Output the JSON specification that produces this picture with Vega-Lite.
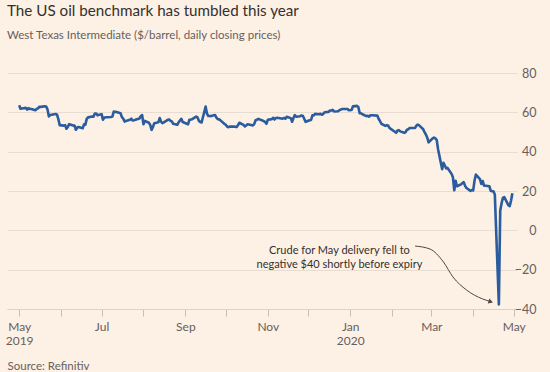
{
  "$schema": "https://vega.github.io/schema/vega-lite/v6.json",
  "width": 510,
  "height": 236,
  "autosize": {"type": "none"},
  "padding": {"left": 7, "top": 73, "right": 33, "bottom": 63},
  "background": "#fdf0e5",
  "title": {
    "text": "The US oil benchmark has tumbled this year",
    "subtitle": "West Texas Intermediate ($/barrel, daily closing prices)",
    "anchor": "start",
    "frame": "group",
    "font": "Lato",
    "fontSize": 15.2,
    "fontWeight": "normal",
    "color": "#33302e",
    "subtitleFont": "Lato",
    "subtitleFontSize": 11.5,
    "subtitleColor": "#66605c",
    "subtitlePadding": 10,
    "offset": 26
  },
  "config": {"view": {"stroke": null}, "font": "Lato"},
  "datasets": {
    "wti": [
      {"date":"2019-05-01","price":63.60},{"date":"2019-05-02","price":61.81},{"date":"2019-05-03","price":61.94},{"date":"2019-05-06","price":62.25},{"date":"2019-05-07","price":61.40},{"date":"2019-05-08","price":62.12},{"date":"2019-05-09","price":61.70},{"date":"2019-05-10","price":61.66},{"date":"2019-05-13","price":61.04},{"date":"2019-05-14","price":61.78},{"date":"2019-05-15","price":62.02},{"date":"2019-05-16","price":62.87},{"date":"2019-05-17","price":62.76},{"date":"2019-05-20","price":63.10},{"date":"2019-05-21","price":62.99},{"date":"2019-05-22","price":61.42},{"date":"2019-05-23","price":57.91},{"date":"2019-05-24","price":58.63},{"date":"2019-05-28","price":59.14},{"date":"2019-05-29","price":58.81},{"date":"2019-05-30","price":56.59},{"date":"2019-05-31","price":53.50},
      {"date":"2019-06-03","price":53.25},{"date":"2019-06-04","price":53.48},{"date":"2019-06-05","price":51.68},{"date":"2019-06-06","price":52.59},{"date":"2019-06-07","price":53.99},{"date":"2019-06-10","price":53.26},{"date":"2019-06-11","price":53.27},{"date":"2019-06-12","price":51.14},{"date":"2019-06-13","price":52.28},{"date":"2019-06-14","price":52.51},{"date":"2019-06-17","price":51.93},{"date":"2019-06-18","price":53.90},{"date":"2019-06-19","price":53.76},{"date":"2019-06-20","price":56.65},{"date":"2019-06-21","price":57.43},{"date":"2019-06-24","price":57.90},{"date":"2019-06-25","price":57.83},{"date":"2019-06-26","price":59.38},{"date":"2019-06-27","price":59.43},{"date":"2019-06-28","price":58.47},
      {"date":"2019-07-01","price":59.09},{"date":"2019-07-02","price":56.25},{"date":"2019-07-03","price":57.34},{"date":"2019-07-05","price":57.51},{"date":"2019-07-08","price":57.66},{"date":"2019-07-09","price":57.83},{"date":"2019-07-10","price":60.43},{"date":"2019-07-11","price":60.20},{"date":"2019-07-12","price":60.21},{"date":"2019-07-15","price":59.58},{"date":"2019-07-16","price":57.62},{"date":"2019-07-17","price":56.78},{"date":"2019-07-18","price":55.30},{"date":"2019-07-19","price":55.63},{"date":"2019-07-22","price":56.22},{"date":"2019-07-23","price":56.77},{"date":"2019-07-24","price":55.88},{"date":"2019-07-25","price":56.02},{"date":"2019-07-26","price":56.20},{"date":"2019-07-29","price":56.87},{"date":"2019-07-30","price":58.05},{"date":"2019-07-31","price":58.58},
      {"date":"2019-08-01","price":53.95},{"date":"2019-08-02","price":55.66},{"date":"2019-08-05","price":54.69},{"date":"2019-08-06","price":53.63},{"date":"2019-08-07","price":51.09},{"date":"2019-08-08","price":52.54},{"date":"2019-08-09","price":54.50},{"date":"2019-08-12","price":54.93},{"date":"2019-08-13","price":57.10},{"date":"2019-08-14","price":55.23},{"date":"2019-08-15","price":54.47},{"date":"2019-08-16","price":54.87},{"date":"2019-08-19","price":56.21},{"date":"2019-08-20","price":56.34},{"date":"2019-08-21","price":55.68},{"date":"2019-08-22","price":55.35},{"date":"2019-08-23","price":54.17},{"date":"2019-08-26","price":53.64},{"date":"2019-08-27","price":54.93},{"date":"2019-08-28","price":55.78},{"date":"2019-08-29","price":56.71},{"date":"2019-08-30","price":55.10},
      {"date":"2019-09-03","price":53.94},{"date":"2019-09-04","price":56.26},{"date":"2019-09-05","price":56.30},{"date":"2019-09-06","price":56.52},{"date":"2019-09-09","price":57.85},{"date":"2019-09-10","price":57.40},{"date":"2019-09-11","price":55.75},{"date":"2019-09-12","price":55.09},{"date":"2019-09-13","price":54.85},{"date":"2019-09-16","price":62.90},{"date":"2019-09-17","price":59.34},{"date":"2019-09-18","price":58.11},{"date":"2019-09-19","price":58.13},{"date":"2019-09-20","price":58.09},{"date":"2019-09-23","price":58.64},{"date":"2019-09-24","price":57.29},{"date":"2019-09-25","price":56.49},{"date":"2019-09-26","price":56.41},{"date":"2019-09-27","price":55.91},{"date":"2019-09-30","price":54.07},
      {"date":"2019-10-01","price":53.62},{"date":"2019-10-02","price":52.64},{"date":"2019-10-03","price":52.45},{"date":"2019-10-04","price":52.81},{"date":"2019-10-07","price":52.75},{"date":"2019-10-08","price":52.63},{"date":"2019-10-09","price":52.59},{"date":"2019-10-10","price":53.55},{"date":"2019-10-11","price":54.70},{"date":"2019-10-14","price":53.59},{"date":"2019-10-15","price":52.81},{"date":"2019-10-16","price":53.36},{"date":"2019-10-17","price":53.93},{"date":"2019-10-18","price":53.78},{"date":"2019-10-21","price":53.31},{"date":"2019-10-22","price":54.16},{"date":"2019-10-23","price":55.97},{"date":"2019-10-24","price":56.23},{"date":"2019-10-25","price":56.66},{"date":"2019-10-28","price":55.81},{"date":"2019-10-29","price":55.54},{"date":"2019-10-30","price":55.06},{"date":"2019-10-31","price":54.18},
      {"date":"2019-11-01","price":56.20},{"date":"2019-11-04","price":56.54},{"date":"2019-11-05","price":57.23},{"date":"2019-11-06","price":56.35},{"date":"2019-11-07","price":57.15},{"date":"2019-11-08","price":57.24},{"date":"2019-11-11","price":56.86},{"date":"2019-11-12","price":56.80},{"date":"2019-11-13","price":57.12},{"date":"2019-11-14","price":56.77},{"date":"2019-11-15","price":57.72},{"date":"2019-11-18","price":57.05},{"date":"2019-11-19","price":55.21},{"date":"2019-11-20","price":57.11},{"date":"2019-11-21","price":58.58},{"date":"2019-11-22","price":57.77},{"date":"2019-11-25","price":58.01},{"date":"2019-11-26","price":58.41},{"date":"2019-11-27","price":58.11},{"date":"2019-11-29","price":55.17},
      {"date":"2019-12-02","price":55.96},{"date":"2019-12-03","price":56.10},{"date":"2019-12-04","price":58.43},{"date":"2019-12-05","price":58.43},{"date":"2019-12-06","price":59.20},{"date":"2019-12-09","price":59.02},{"date":"2019-12-10","price":59.24},{"date":"2019-12-11","price":58.76},{"date":"2019-12-12","price":59.18},{"date":"2019-12-13","price":60.07},{"date":"2019-12-16","price":60.21},{"date":"2019-12-17","price":60.94},{"date":"2019-12-18","price":60.93},{"date":"2019-12-19","price":61.22},{"date":"2019-12-20","price":60.44},{"date":"2019-12-23","price":60.52},{"date":"2019-12-24","price":61.11},{"date":"2019-12-26","price":61.68},{"date":"2019-12-27","price":61.72},{"date":"2019-12-30","price":61.68},{"date":"2019-12-31","price":61.06},
      {"date":"2020-01-02","price":61.18},{"date":"2020-01-03","price":63.05},{"date":"2020-01-06","price":63.27},{"date":"2020-01-07","price":62.70},{"date":"2020-01-08","price":59.61},{"date":"2020-01-09","price":59.56},{"date":"2020-01-10","price":59.04},{"date":"2020-01-13","price":58.08},{"date":"2020-01-14","price":58.23},{"date":"2020-01-15","price":57.81},{"date":"2020-01-16","price":58.52},{"date":"2020-01-17","price":58.54},{"date":"2020-01-21","price":58.34},{"date":"2020-01-22","price":56.74},{"date":"2020-01-23","price":55.59},{"date":"2020-01-24","price":54.19},{"date":"2020-01-27","price":53.14},{"date":"2020-01-28","price":53.48},{"date":"2020-01-29","price":53.33},{"date":"2020-01-30","price":52.14},{"date":"2020-01-31","price":51.56},
      {"date":"2020-02-03","price":50.11},{"date":"2020-02-04","price":49.61},{"date":"2020-02-05","price":50.75},{"date":"2020-02-06","price":50.95},{"date":"2020-02-07","price":50.32},{"date":"2020-02-10","price":49.57},{"date":"2020-02-11","price":49.94},{"date":"2020-02-12","price":51.17},{"date":"2020-02-13","price":51.42},{"date":"2020-02-14","price":52.05},{"date":"2020-02-18","price":52.05},{"date":"2020-02-19","price":53.29},{"date":"2020-02-20","price":53.78},{"date":"2020-02-21","price":53.38},{"date":"2020-02-24","price":51.43},{"date":"2020-02-25","price":49.90},{"date":"2020-02-26","price":48.73},{"date":"2020-02-27","price":47.09},{"date":"2020-02-28","price":44.76},
      {"date":"2020-03-02","price":46.75},{"date":"2020-03-03","price":47.18},{"date":"2020-03-04","price":46.78},{"date":"2020-03-05","price":45.90},{"date":"2020-03-06","price":41.28},{"date":"2020-03-09","price":31.13},{"date":"2020-03-10","price":34.36},{"date":"2020-03-11","price":32.98},{"date":"2020-03-12","price":31.50},{"date":"2020-03-13","price":31.73},{"date":"2020-03-16","price":28.70},{"date":"2020-03-17","price":26.95},{"date":"2020-03-18","price":20.37},{"date":"2020-03-19","price":25.22},{"date":"2020-03-20","price":22.43},{"date":"2020-03-23","price":23.36},{"date":"2020-03-24","price":24.01},{"date":"2020-03-25","price":24.49},{"date":"2020-03-26","price":22.60},{"date":"2020-03-27","price":21.51},{"date":"2020-03-30","price":20.09},{"date":"2020-03-31","price":20.48},
      {"date":"2020-04-01","price":20.31},{"date":"2020-04-02","price":25.32},{"date":"2020-04-03","price":28.34},{"date":"2020-04-06","price":26.08},{"date":"2020-04-07","price":23.63},{"date":"2020-04-08","price":25.09},{"date":"2020-04-09","price":22.76},{"date":"2020-04-13","price":22.41},{"date":"2020-04-14","price":20.11},{"date":"2020-04-15","price":19.87},{"date":"2020-04-16","price":19.87},{"date":"2020-04-17","price":18.27},{"date":"2020-04-20","price":-37.63},{"date":"2020-04-21","price":10.01},{"date":"2020-04-22","price":13.78},{"date":"2020-04-23","price":16.50},{"date":"2020-04-24","price":16.94},{"date":"2020-04-27","price":12.78},{"date":"2020-04-28","price":12.34},{"date":"2020-04-29","price":15.06},{"date":"2020-04-30","price":18.84}
    ],
    "arrow": [
      {"date":"2020-02-18","price":-8.0},
      {"date":"2020-02-29","price":-9.5},
      {"date":"2020-03-10","price":-16.1},
      {"date":"2020-03-17","price":-23.7},
      {"date":"2020-03-27","price":-30.3},
      {"date":"2020-04-08","price":-34.9},
      {"date":"2020-04-14","price":-36.2}
    ],
    "arrowhead": [
      {"date":"2020-04-14","price":-36.3}
    ],
    "note": [
      {"date":"2019-12-24","price":-10.5,"label":"Crude for May delivery fell to\nnegative $40 shortly before expiry"}
    ]
  },
  "encoding": {
    "x": {
      "field": "date",
      "type": "temporal",
      "scale": {"domain": [{"year": 2019, "month": 4, "date": 22}, {"year": 2020, "month": 5, "date": 3, "hours": 10}]},
      "axis": {
        "tickCount": {"interval": "month", "step": 1},
        "labelExpr": "month(datum.value) % 2 == 0 ? (month(datum.value) == 4 && year(datum.value) == 2019 ? ['May', '2019'] : (month(datum.value) == 0 ? ['Jan', '2020'] : timeFormat(datum.value, '%b'))) : ''",
        "grid": false,
        "tickSize": 7,
        "tickColor": "#c9beb4",
        "domainColor": "#ddd2c8",
        "labelFont": "Lato",
        "labelFontSize": 12,
        "labelColor": "#66605c",
        "labelPadding": 5,
        "labelLineHeight": 14,
        "labelFlush": false,
        "labelOverlap": false,
        "labelBound": false,
        "title": "Source: Refinitiv",
        "titleAnchor": "start",
        "titleAlign": "left",
        "titleFont": "Lato",
        "titleFontSize": 11.5,
        "titleFontWeight": "normal",
        "titleColor": "#66605c",
        "titlePadding": 14
      }
    },
    "y": {
      "field": "price",
      "type": "quantitative",
      "scale": {"domain": [-40, 80], "nice": false, "zero": false},
      "axis": {
        "orient": "right",
        "values": [-40, -20, 0, 20, 40, 60, 80],
        "tickCount": 7,
        "grid": true,
        "gridColor": "#e8ddd3",
        "gridWidth": 1,
        "domain": false,
        "ticks": false,
        "tickSize": 0,
        "labelAlign": "right",
        "labelBaseline": "middle",
        "labelPadding": 19,
        "labelFont": "Lato",
        "labelFontSize": 12.5,
        "labelColor": "#66605c",
        "labelOverlap": false,
        "labelBound": false,
        "labelFlush": false,
        "title": null
      }
    }
  },
  "layer": [
    {
      "data": {"name": "wti"},
      "mark": {"type": "line", "color": "#2b5c9e", "strokeWidth": 2.6, "strokeJoin": "round"}
    },
    {
      "data": {"name": "arrow"},
      "mark": {"type": "line", "color": "#4d4845", "strokeWidth": 1, "interpolate": "monotone"}
    },
    {
      "data": {"name": "arrowhead"},
      "mark": {"type": "point", "shape": "triangle-right", "filled": true, "color": "#4d4845", "size": 28, "angle": 18, "opacity": 1}
    },
    {
      "data": {"name": "note"},
      "mark": {"type": "text", "align": "center", "baseline": "middle", "lineBreak": "\n", "lineHeight": 14, "font": "Lato", "fontSize": 11, "color": "#33302e"},
      "encoding": {
        "text": {"field": "label"}
      }
    }
  ]
}
